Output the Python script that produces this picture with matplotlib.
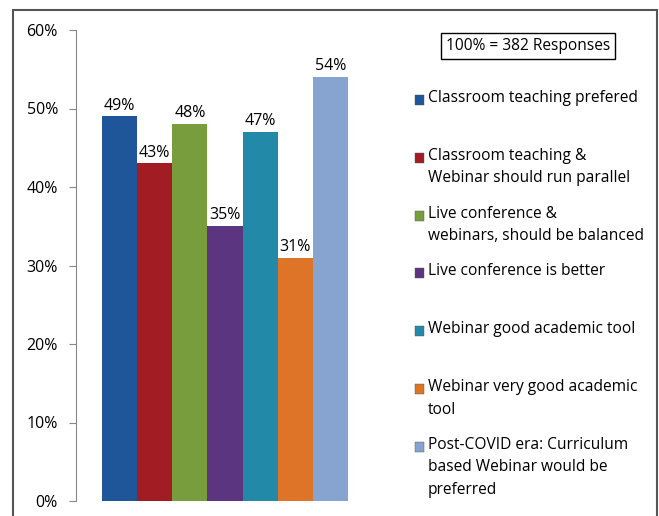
import matplotlib.pyplot as plt
from matplotlib.patches import Rectangle
from matplotlib.ticker import FuncFormatter

# data
labels = [
    'Classroom teaching prefered',
    'Classroom teaching &\nWebinar should run parallel',
    'Live conference &\nwebinars, should be balanced',
    'Live conference is better',
    'Webinar good academic tool',
    'Webinar very good academic\ntool',
    'Post-COVID era: Curriculum\nbased Webinar would be\npreferred',
]
values = [49, 43, 48, 35, 47, 31, 54]
colors = ['#1f5699', '#a11d23', '#789d3c', '#5c3580', '#228aa8', '#dd7427', '#87a3d0']
yticks = [0, 10, 20, 30, 40, 50, 60]

plt.rcParams['font.family'] = ['Open Sans', 'DejaVu Sans']

W, H = 659, 516
fig = plt.figure(figsize=(W / 100, H / 100), dpi=100)
ax = fig.add_axes([76 / W, (H - 501) / H, (360 - 76) / W, (501 - 30) / H])

x = list(range(len(values)))
bars = ax.bar(x, values, width=1.0, color=colors, edgecolor='none')
for b, v in zip(bars, values):
    ax.annotate(f'{v}%', (b.get_x() + b.get_width() / 2, v), xytext=(0, 2),
                textcoords='offset points', ha='center', va='bottom', fontsize=11.5)

ax.set_xlim(-1.24, 6.84)
ax.set_ylim(0, 60)
ax.set_yticks(yticks)
ax.yaxis.set_major_formatter(FuncFormatter(lambda v, p: f'{int(v)}%'))
ax.tick_params(axis='y', direction='out', length=5, color='#888888', labelsize=11.5, pad=8)
ax.set_xticks([])
for s in ['top', 'right', 'bottom']:
    ax.spines[s].set_visible(False)
ax.spines['left'].set_color('#888888')

# legend slots, evenly spaced like the original
slot0, step = 100, 57.8
for i, (lab, c) in enumerate(zip(labels, colors)):
    yc = slot0 + i * step
    fig.patches.append(Rectangle((415 / W, 1 - (yc + 5) / H), 9 / W, 10 / H,
                                 transform=fig.transFigure, facecolor=c, edgecolor='#555555', lw=0.3))
    fig.text(428 / W, 1 - (yc - 10) / H, lab, fontsize=11.2, va='top', ha='left', linespacing=1.55)

fig.text(528 / W, 1 - 46 / H, '100% = 382 Responses', fontsize=11.2, ha='center', va='center',
         bbox=dict(boxstyle='square,pad=0.3', facecolor='white', edgecolor='black', lw=1))

# outer frame
fig.patches.append(Rectangle((13 / W, -0.01), (657 - 13) / W, (H - 10) / H + 0.01,
                             transform=fig.transFigure, fill=False, edgecolor='#555555', lw=1.5))

fig.savefig('out.png', dpi=100)
